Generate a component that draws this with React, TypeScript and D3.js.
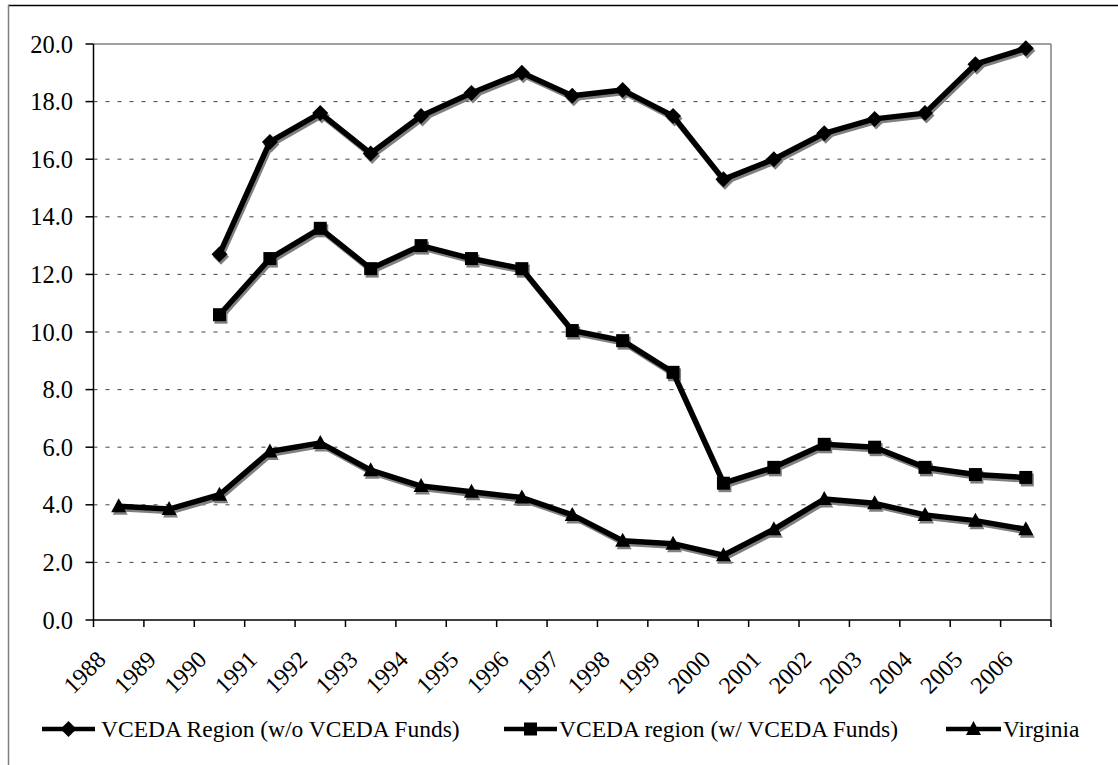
import * as d3 from 'd3';

const years = ['1988', '1989', '1990', '1991', '1992', '1993', '1994', '1995', '1996', '1997',
  '1998', '1999', '2000', '2001', '2002', '2003', '2004', '2005', '2006'];

// null = no value for that year
const vcedaWithout = [null, null, 12.7, 16.6, 17.6, 16.2, 17.5, 18.3, 19.0, 18.2,
  18.4, 17.5, 15.3, 16.0, 16.9, 17.4, 17.6, 19.3, 19.85];
const vcedaWith = [null, null, 10.6, 12.55, 13.6, 12.2, 13.0, 12.55, 12.2, 10.05,
  9.7, 8.6, 4.75, 5.3, 6.1, 6.0, 5.3, 5.05, 4.95];
const virginia = [3.95, 3.85, 4.35, 5.85, 6.15, 5.2, 4.65, 4.45, 4.25, 3.65,
  2.75, 2.65, 2.25, 3.15, 4.2, 4.05, 3.65, 3.45, 3.15];

const yTicks = [0, 2, 4, 6, 8, 10, 12, 14, 16, 18, 20];
const seriesNames = ['VCEDA Region (w/o VCEDA Funds)', 'VCEDA region (w/ VCEDA Funds)', 'Virginia'];

const W = 1118;
const H = 765;
const plot = { left: 93.5, right: 1051, top: 44, bottom: 620 };
const FONT = "'Liberation Serif', 'Times New Roman', serif";
const SHADOW = '#808080';

const markerPath = (kind: string, x: number, y: number) => {
  if (kind === 'diamond') {
    const r = 8;
    return `M${x},${y - r}L${x + r},${y}L${x},${y + r}L${x - r},${y}Z`;
  }
  if (kind === 'square') {
    const r = 6.5;
    return `M${x - r},${y - r}H${x + r}V${y + r}H${x - r}Z`;
  }
  // triangle
  return `M${x},${y - 8}L${x + 7.5},${y + 6}L${x - 7.5},${y + 6}Z`;
};

const App = () => {
  const x = d3.scaleBand().domain(years).range([plot.left, plot.right]).padding(0);
  const y = d3.scaleLinear().domain([0, 20]).range([plot.bottom, plot.top]);
  const cx = (yr: string) => (x(yr) ?? 0) + x.bandwidth() / 2;

  const line = d3.line<[string, number | null]>()
    .defined(d => d[1] != null)
    .x(d => cx(d[0]))
    .y(d => y(d[1] as number));

  const series = [
    { name: seriesNames[0], values: vcedaWithout, marker: 'diamond' },
    { name: seriesNames[1], values: vcedaWith, marker: 'square' },
    { name: seriesNames[2], values: virginia, marker: 'triangle' },
  ];

  const boundaries = years.map(yr => x(yr) ?? 0).concat([plot.right]);

  const legendPos = [
    { x0: 42, x1: 95, tx: 101 },
    { x0: 504, x1: 557, tx: 559 },
    { x0: 946, x1: 1001, tx: 1003 },
  ];
  const legendY = 729;

  return (
    <svg width={W} height={H} style={{ position: 'absolute', left: 0, top: 0, background: '#fff', fontFamily: FONT }}>
      {/* outer frame */}
      <line x1={8} x2={W} y1={5.5} y2={5.5} stroke="#000" strokeWidth={1.5} />
      <line x1={8.5} x2={8.5} y1={5} y2={H} stroke={SHADOW} strokeWidth={1.5} />

      {/* grid */}
      {yTicks.filter(t => t > 0 && t < 20).map(t => (
        <line key={t} x1={plot.left} x2={plot.right} y1={y(t)} y2={y(t)}
          stroke="#444" strokeWidth={1} strokeDasharray="4,8" />
      ))}
      <line x1={plot.left} x2={plot.right} y1={y(20)} y2={y(20)} stroke={SHADOW} strokeWidth={1.5} />
      <line x1={plot.right} x2={plot.right} y1={y(20)} y2={plot.bottom} stroke={SHADOW} strokeWidth={1.5} />

      {/* y axis */}
      <line x1={plot.left} x2={plot.left} y1={y(20)} y2={plot.bottom} stroke="#000" strokeWidth={1.5} />
      {yTicks.map(t => (
        <g key={t}>
          <line x1={plot.left - 8} x2={plot.left} y1={y(t)} y2={y(t)} stroke="#000" strokeWidth={1.5} />
          <text x={73} y={y(t)} dy="0.35em" textAnchor="end" fontSize={24.5}>{t.toFixed(1)}</text>
        </g>
      ))}

      {/* x axis */}
      <line x1={plot.left} x2={plot.right} y1={plot.bottom} y2={plot.bottom} stroke="#000" strokeWidth={1.5} />
      {boundaries.map((b, i) => (
        <line key={i} x1={b} x2={b} y1={plot.bottom} y2={plot.bottom + 7} stroke="#000" strokeWidth={1.5} />
      ))}
      {years.map(yr => (
        <text key={yr} transform={`translate(${cx(yr) - 11.5},${plot.bottom + 41}) rotate(-45)`}
          textAnchor="end" fontSize={24}>{yr}</text>
      ))}

      {/* series: shadows first, then lines */}
      {series.map(s => {
        const pts = years.map((yr, i) => [yr, s.values[i]] as [string, number | null]);
        return (
          <g key={s.name}>
            <g transform="translate(1.5,2.5)" fill={SHADOW}>
              <path d={line(pts) ?? ''} fill="none" stroke={SHADOW} strokeWidth={5.5} strokeLinejoin="round" />
              {pts.filter(p => p[1] != null).map(p => (
                <path key={p[0]} d={markerPath(s.marker, cx(p[0]), y(p[1] as number))} />
              ))}
            </g>
            <path d={line(pts) ?? ''} fill="none" stroke="#000" strokeWidth={5.5} strokeLinejoin="round" />
            {pts.filter(p => p[1] != null).map(p => (
              <path key={p[0]} d={markerPath(s.marker, cx(p[0]), y(p[1] as number))} fill="#000" />
            ))}
          </g>
        );
      })}

      {/* legend */}
      {series.map((s, i) => {
        const lp = legendPos[i];
        return (
          <g key={s.name}>
            <line x1={lp.x0} x2={lp.x1} y1={legendY} y2={legendY} stroke="#000" strokeWidth={4.5} />
            <path d={markerPath(s.marker, (lp.x0 + lp.x1) / 2, legendY)} fill="#000" />
            <text x={lp.tx} y={legendY} dy="0.35em" fontSize={23.5}>{s.name}</text>
          </g>
        );
      })}
    </svg>
  );
};

export default App;
